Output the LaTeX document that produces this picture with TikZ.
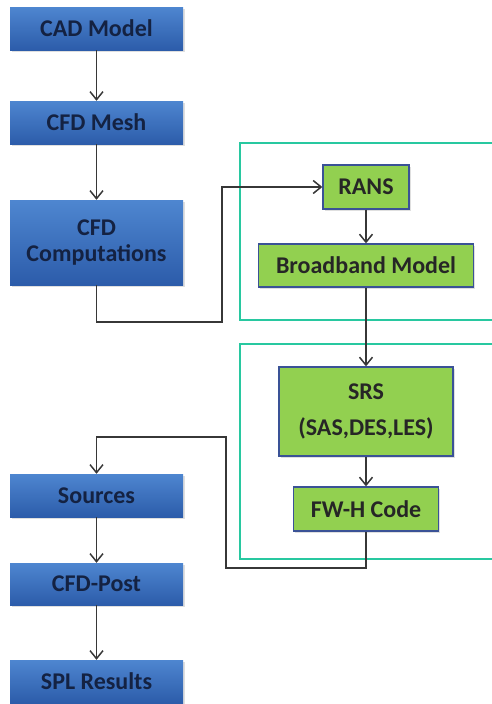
\documentclass[tikz,border=0pt]{standalone}
\usepackage{fontspec}
\setmainfont{Carlito}
\usetikzlibrary{arrows.meta,shadows}
\definecolor{bluetop}{RGB}{78,134,208}
\definecolor{bluebot}{RGB}{44,92,170}
\definecolor{navytext}{RGB}{20,34,66}
\definecolor{limefill}{RGB}{146,208,80}
\definecolor{limeedge}{RGB}{58,82,150}
\definecolor{framegreen}{RGB}{40,200,160}
\definecolor{flowgray}{RGB}{55,55,55}
\tikzset{
  bluebox/.style={rectangle, inner sep=0pt, minimum width=173pt, minimum height=43pt,
    top color=bluetop, bottom color=bluebot, text=navytext, align=center,
    font=\bfseries\fontsize{24}{26}\selectfont,
    drop shadow={opacity=0.25, shadow xshift=1.5pt, shadow yshift=-1.5pt}},
  limebox/.style={rectangle, inner sep=0pt, draw=limeedge, line width=1.3pt, fill=limefill,
    text=black!85, align=center, font=\bfseries\fontsize{24}{26}\selectfont,
    drop shadow={opacity=0.25, shadow xshift=1.5pt, shadow yshift=-1.5pt}},
  flow/.style={draw=flowgray, line width=1.5pt, -{Straight Barb[length=8pt,width=13pt]}},
  frame/.style={draw=framegreen, line width=2.5pt}
}
\begin{document}
\begin{tikzpicture}[x=1pt, y=-1pt]
  \useasboundingbox (0,0) rectangle (492,704);
  % left column
  \node[bluebox] (cad) at (96.5,28.5) {CAD Model};
  \node[bluebox] (mesh) at (96.5,122.5) {CFD Mesh};
  \node[bluebox, minimum height=85pt] (comp) at (96.5,242.5) {CFD\\Computations};
  \node[bluebox] (sources) at (96.5,495.5) {Sources};
  \node[bluebox, minimum height=42pt] (post) at (96.5,584) {CFD-Post};
  \node[bluebox] (spl) at (96.5,681.5) {SPL Results};
  % frames
  \draw[frame] (493,143) -- (240,143) -- (240,320) -- (493,320);
  \draw[frame] (493,344) -- (240,344) -- (240,559) -- (493,559);
  % right column
  \node[limebox, minimum width=86pt, minimum height=44pt] (rans) at (366,187) {RANS};
  \node[limebox, minimum width=215pt, minimum height=43pt] (broad) at (366,265.5) {Broadband Model};
  \node[limebox, minimum width=174pt, minimum height=89pt] (srs) at (366,411.5) {SRS\\[10pt](SAS,DES,LES)};
  \node[limebox, minimum width=145pt, minimum height=44pt] (fwh) at (366,509) {FW-H Code};
  \coordinate (k1) at (222,322);
  \coordinate (k2) at (226,568);
  \coordinate (k3) at (96.5,437);
  % connectors
  \draw[flow] (cad) -- (mesh);
  \draw[flow] (mesh) -- (comp);
  \draw[flow] (comp.south) |- (k1) |- (rans.west);
  \draw[flow] (rans) -- (broad);
  \draw[flow] (broad) -- (srs);
  \draw[flow] (srs) -- (fwh);
  \draw[flow] (fwh.south) |- (k2) |- (k3) -- (sources.north);
  \draw[flow] (sources) -- (post);
  \draw[flow] (post) -- (spl);
\end{tikzpicture}
\end{document}
